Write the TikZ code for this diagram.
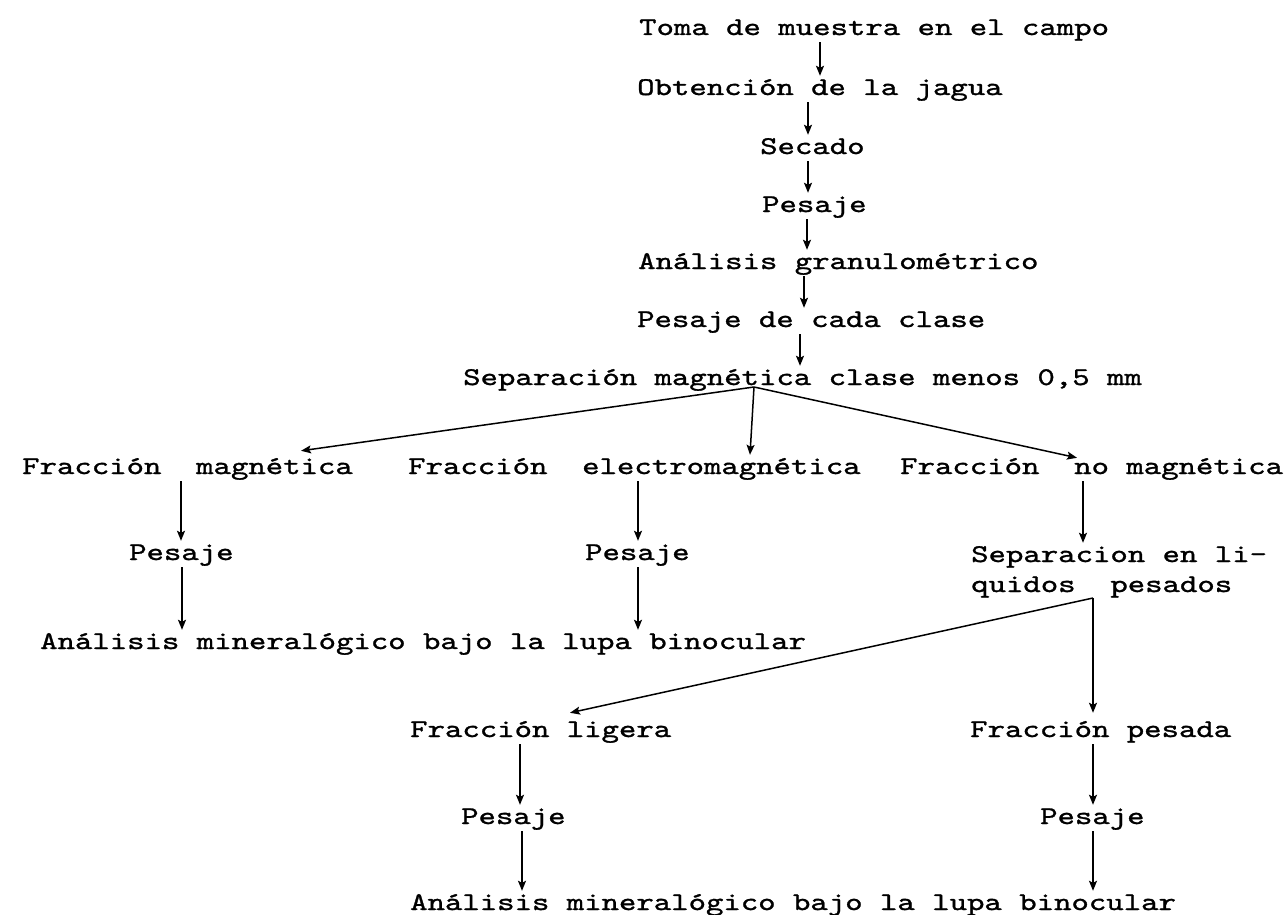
\documentclass[tikz,border=0pt]{standalone}
\usepackage{fontspec}
\newfontfamily\twfont{lmmono10-regular}[Extension=.otf,FakeStretch=1.3,FakeBold=1.2]
\usetikzlibrary{arrows.meta,calc}
\begin{document}
\begin{tikzpicture}[x=1pt,y=-1pt,
  txt/.style={anchor=base west,inner xsep=0pt,inner ysep=1pt,text height=18pt,text depth=6pt,
    font=\twfont\fontsize{25.5}{30}\selectfont},
  arr/.style={line width=1.5pt,-{Stealth[length=10pt,width=8pt,inset=2pt]}},
  ln/.style={line width=1.5pt}]
\useasboundingbox[fill=white] (0,0) rectangle (1288,915);
% main chain
\node[txt] (toma) at (639,35) {Toma de muestra en el campo};
\node[txt] (obt)  at (637,95) {Obtención de la jagua};
\node[txt] (sec)  at (760,154) {Secado};
\node[txt] (pes1) at (762,212) {Pesaje};
\node[txt] (ang)  at (638,269) {Análisis granulométrico};
\node[txt] (pcc)  at (637,327) {Pesaje de cada clase};
\node[txt] (sep)  at (463,385) {Separación magnética clase menos 0,5 mm};
% fractions
\node[txt] (fm) at (22,474)  {Fracción~~magnética};
\node[txt] (fe) at (408,474) {Fracción~~electromagnética};
\node[txt] (fn) at (900,474) {Fracción~~no magnética};
\node[txt] (pl) at (129,560) {Pesaje};
\node[txt] (pm) at (585,560) {Pesaje};
\node[txt] (sl1) at (971,562) {Separacion en li-};
\node[txt] (sl2) at (971,592) {quidos~~pesados};
\node[txt] (anl) at (40,649) {Análisis mineralógico bajo la lupa binocular};
% heavy liquids
\node[txt] (fl) at (410,737) {Fracción ligera};
\node[txt] (fp) at (970,737) {Fracción pesada};
\node[txt] (pbl) at (461,824) {Pesaje};
\node[txt] (pbr) at (1040,824) {Pesaje};
\node[txt] (anf) at (410,910) {Análisis mineralógico bajo la lupa binocular};
% connectors of the main chain
\draw[arr] (820,0 |- toma.south) -- (820,0 |- obt.north);
\draw[arr] (808,0 |- obt.south) -- (808,0 |- sec.north);
\draw[arr] (808,0 |- sec.south) -- (808,0 |- pes1.north);
\draw[arr] (807,0 |- pes1.south) -- (807,0 |- ang.north);
\draw[arr] (804,0 |- ang.south) -- (804,0 |- pcc.north);
\draw[arr] (800,0 |- pcc.south) -- (800,0 |- sep.north);
% split of the magnetic separation
\coordinate (s1) at (754,387);
\draw[arr] (s1) -- ($(301,0 |- fm.north)+(0,-4)$);
\draw[arr] (s1) -- (750,0 |- fe.north);
\draw[arr] (s1) -- ($(1077,0 |- fn.north)+(0,3)$);
% columns
\draw[arr] (181,0 |- fm.south) -- (181,0 |- pl.north);
\draw[arr] (182,0 |- pl.south) -- (182,0 |- anl.north);
\draw[arr] (638,0 |- fe.south) -- (638,0 |- pm.north);
\draw[arr] (638,0 |- pm.south) -- (638,0 |- anl.north);
\draw[arr] (1083,0 |- fn.south) -- (1083,0 |- sl1.north);
% split of the heavy liquids separation
\coordinate (s2) at (1093,598);
\draw[arr] (s2) -- ($(570,0 |- fl.north)+(0,-5)$);
\draw[arr] (s2) -- ($(1093,0 |- fp.north)+(0,-5)$);
\draw[arr] (520,0 |- fl.south) -- (520,0 |- pbl.north);
\draw[arr] (522,0 |- pbl.south) -- (522,0 |- anf.north);
\draw[arr] (1093,0 |- fp.south) -- (1093,0 |- pbr.north);
\draw[arr] (1093,0 |- pbr.south) -- (1093,0 |- anf.north);
\end{tikzpicture}
\end{document}
